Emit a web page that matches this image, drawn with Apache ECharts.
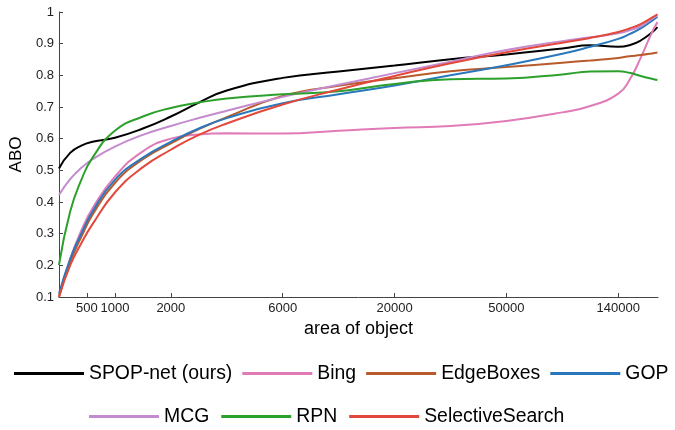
<!DOCTYPE html>
<html>
<head>
<meta charset="utf-8">
<script src="https://cdn.jsdelivr.net/npm/echarts@6/dist/echarts.min.js"></script>
<style>html,body{margin:0;padding:0;background:#fff}#c{width:675px;height:430px}</style>
</head>
<body>
<div id="c"></div>
<script>
// x positions on the (binned) area axis: tick unit positions
const xPos = [0, 0.1, 0.2, 0.3, 0.5, 0.75, 1, 1.25, 1.5, 2, 2.5, 3, 3.5, 4, 4.5, 4.75, 5, 5.1, 5.2, 5.3, 5.35];
const tickPos = [0.25, 0.5, 1, 2, 3, 4, 5];
const tickLabels = ['500', '1000', '2000', '6000', '20000', '50000', '140000'];

const spop = [0.506, 0.555, 0.578, 0.590, 0.603, 0.632, 0.670, 0.714, 0.752, 0.792, 0.812, 0.831, 0.851, 0.866, 0.885, 0.895, 0.890, 0.895, 0.910, 0.935, 0.952];
const bing = [0.10, 0.22, 0.31, 0.38, 0.48, 0.56, 0.600, 0.613, 0.617, 0.616, 0.625, 0.634, 0.640, 0.656, 0.683, 0.703, 0.742, 0.785, 0.855, 0.935, 0.968];
const edge = [0.10, 0.21, 0.29, 0.36, 0.46, 0.535, 0.585, 0.630, 0.668, 0.735, 0.767, 0.791, 0.813, 0.826, 0.840, 0.847, 0.855, 0.860, 0.864, 0.869, 0.872];
const gop = [0.11, 0.22, 0.30, 0.37, 0.47, 0.54, 0.59, 0.632, 0.665, 0.712, 0.740, 0.768, 0.800, 0.832, 0.868, 0.890, 0.915, 0.930, 0.948, 0.972, 0.985];
const mcg = [0.422, 0.472, 0.508, 0.535, 0.575, 0.612, 0.640, 0.665, 0.688, 0.732, 0.770, 0.807, 0.843, 0.880, 0.908, 0.920, 0.933, 0.942, 0.955, 0.978, 0.990];
const rpn = [0.201, 0.37, 0.47, 0.54, 0.625, 0.670, 0.697, 0.714, 0.727, 0.740, 0.750, 0.773, 0.788, 0.790, 0.803, 0.812, 0.813, 0.808, 0.798, 0.789, 0.785];
const ss = [0.10, 0.20, 0.27, 0.33, 0.43, 0.51, 0.565, 0.612, 0.648, 0.708, 0.755, 0.798, 0.838, 0.873, 0.903, 0.918, 0.937, 0.948, 0.962, 0.982, 0.993];

const names = ['SPOP-net (ours)', 'Bing', 'EdgeBoxes', 'GOP', 'MCG', 'RPN', 'SelectiveSearch'];
const values = [spop, bing, edge, gop, mcg, rpn, ss];
const colors = ['#000000', '#e07bb8', '#b85a2a', '#2a78bb', '#c48bce', '#2ca02c', '#e2493c'];

const chart = echarts.init(document.getElementById('c'));
const font = 'Liberation Sans, Arial, Helvetica, sans-serif';
const legendBase = { icon: 'rect', itemWidth: 70, itemHeight: 3, itemGap: 10, width: 670,
  textStyle: { fontSize: 19.4, fontFamily: font, color: '#000' } };
chart.setOption({
  animation: false,
  color: colors,
  grid: { left: 55, right: 17, top: 12, bottom: 133 },
  legend: [
    Object.assign({ data: names.slice(0, 4), left: 9, top: 359 }, legendBase),
    Object.assign({ data: names.slice(4), left: 84, top: 402 }, legendBase, { itemGap: 12 })
  ],
  xAxis: {
    type: 'value', min: 0, max: 5.355,
    name: 'area of object', nameLocation: 'middle', nameGap: 18,
    nameTextStyle: { fontSize: 18, fontFamily: font, color: '#000' },
    axisLine: { lineStyle: { color: '#444', width: 1 } },
    axisTick: { inside: true, length: 4, customValues: tickPos, lineStyle: { color: '#444' } },
    axisLabel: { customValues: tickPos, fontSize: 13, fontFamily: font, color: '#222', margin: 5,
      formatter: v => { const i = tickPos.findIndex(p => Math.abs(p - v) < 1e-6); return i >= 0 ? tickLabels[i] : ''; } },
    splitLine: { show: false }
  },
  yAxis: {
    type: 'value', min: 0.1, max: 1, interval: 0.1,
    name: 'ABO', nameLocation: 'middle', nameGap: 32, nameRotate: 90,
    nameTextStyle: { fontSize: 17, fontFamily: font, color: '#000' },
    axisLine: { show: true, lineStyle: { color: '#444', width: 1 } },
    axisTick: { show: true, inside: true, length: 4, lineStyle: { color: '#444' } },
    axisLabel: { fontSize: 13, fontFamily: font, color: '#222', margin: 5,
      formatter: v => String(Math.round(v * 10) / 10) },
    splitLine: { show: false }
  },
  series: names.map((n, i) => ({
    name: n, type: 'line', smooth: true, showSymbol: false, symbol: 'none',
    lineStyle: { width: 2, color: colors[i] },
    itemStyle: { color: colors[i] },
    data: xPos.map((x, j) => [x, values[i][j]])
  }))
});
</script>
</body>
</html>
